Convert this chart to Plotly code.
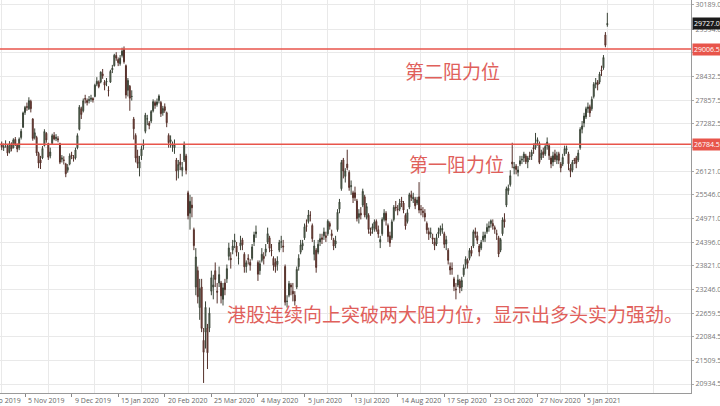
import plotly.graph_objects as go

# ---- data (trading-day index on x) ----
open_ = [26790,26700,26760,26740,26600,26780,26700,26900,26760,26700,
 26950,27200,27560,27700,27650,27830,27400,26950,26950,26560,
 26400,26450,26750,27050,26800,26500,26800,27000,26920,26920,
 26800,26420,26400,26300,26150,26300,26520,26460,26450,26700,
 27150,27650,27600,27900,27850,27850,27880,27900,27950,28250,
 28300,28300,28500,28300,28300,28100,28300,28600,28700,28950,
 28850,28750,28950,29100,28700,28100,28200,27950,27400,27000,
 26500,26200,26500,26750,27100,27400,27300,27350,27600,27800,
 27750,27850,27800,27550,27700,27550,27000,26850,26750,26700,
 26400,26150,26350,26150,26400,26500,25600,25100,25300,24700,
 23300,23700,22800,23300,22000,22200,22300,22300,23200,23300,
 23700,23200,23400,23400,23000,23400,23500,24050,24000,24200,
 24400,24300,24000,24300,24450,24100,23800,24000,23900,24000,
 24400,24600,23900,23700,23950,24050,24150,24400,24500,24200,
 24000,23900,23850,24200,24400,24300,23800,22950,23100,23350,
 23200,23100,23300,23800,24150,24300,24500,24800,24900,25050,
 24800,24100,24200,24150,24400,24500,24550,24550,24600,24850,
 24600,24450,24350,24700,25200,25700,26400,26000,26300,26100,
 25750,25600,25600,25400,25000,25100,25300,25500,25000,25050,
 24650,24700,24750,24900,24700,24400,24600,24950,25100,24800,
 24550,24500,24950,25250,25200,25200,25400,25350,25050,24900,
 25250,25550,25450,25450,25350,25500,25200,25150,25100,24850,
 24650,24600,24500,24400,24350,24600,24650,24700,24600,24350,
 24200,23800,23750,23500,23250,23350,23450,23300,23600,23850,
 23950,24000,24200,24300,24650,24550,24300,24250,24450,24500,
 24650,24750,24850,24850,24750,24600,24500,24200,24600,24950,
 25300,25650,25800,26350,26200,26250,26100,26300,26400,26450,
 26500,26350,26500,26500,26700,26700,26850,26800,26450,26600,
 26550,26750,26750,26450,26350,26550,26400,26550,26300,26300,
 26550,26650,26550,26200,26150,26400,26450,26400,26700,27150,
 27300,27450,27650,27700,27650,27950,28250,28300,28300,28600,
 28650,29450,29700]
high = [26850,26800,26880,26780,26860,26830,26930,26960,26800,26950,
 27160,27580,27720,27800,27930,27870,27420,27170,26990,26600,
 26500,26740,27150,27080,26820,26700,27040,27080,27030,26980,
 26820,26520,26490,26330,26300,26560,26600,26520,26700,27050,
 27740,27700,27900,27990,27900,27960,27990,27930,28260,28420,
 28340,28560,28620,28350,28400,28200,28600,28720,28990,29030,
 28900,28960,29140,29170,28730,28400,28230,28100,27450,27050,
 26650,26500,26750,26900,27550,27500,27350,27620,27880,27850,
 27900,28000,27840,27720,27780,27580,27050,27000,26850,26900,
 26450,26400,26550,26350,26850,26550,25650,25550,25500,24750,
 24250,23800,23500,23500,22300,22950,22400,22800,23700,23600,
 23900,23400,23800,23450,23400,23500,23850,24380,24150,24450,
 24600,24400,24150,24550,24500,24150,23950,24100,23980,24350,
 24650,24800,23950,23950,24250,24150,24350,24750,24550,24350,
 24050,24000,24050,24450,24550,24450,23850,23100,23450,23400,
 23400,23200,23800,24100,24450,24450,24850,24950,25180,25150,
 24850,24450,24250,24450,24600,24600,24750,24650,24950,24900,
 24700,24500,24550,25200,25450,26400,26450,26200,26650,26150,
 25900,25650,25750,25450,25200,25250,25700,25550,25350,25100,
 24750,24850,24950,24950,24800,24550,25000,25200,25150,24850,
 24650,24950,25300,25400,25300,25450,25500,25400,25100,25200,
 25600,25650,25600,25500,25500,25860,25300,25250,25200,24900,
 24750,24750,24600,24500,24600,24750,24800,24850,24650,24550,
 24250,23900,23900,23550,23400,23600,23500,23550,23850,24050,
 24000,24250,24300,24700,24750,24650,24350,24450,24650,24650,
 24850,24900,24950,24950,24800,24700,24550,24500,25000,25100,
 25750,25800,26150,26820,26350,26300,26250,26500,26500,26600,
 26550,26500,26600,26650,26800,27060,26950,26850,26650,26700,
 26800,26950,26800,26500,26600,26650,26600,26600,26350,26550,
 26750,26750,26600,26300,26400,26450,26500,26650,27200,27350,
 27550,27700,27800,27750,27950,28300,28400,28350,28550,28700,
 28960,29520,29990]
low = [26640,26620,26700,26500,26560,26610,26680,26740,26590,26640,
 26900,27180,27500,27600,27620,27560,26870,26900,26500,26200,
 26180,26420,26730,26820,26400,26440,26780,26880,26860,26830,
 26300,26340,26290,25980,26090,26270,26420,26360,26410,26660,
 27120,27400,27560,27780,27730,27780,27820,27800,27930,28200,
 28150,28270,28380,28100,28200,27950,28280,28520,28680,28820,
 28690,28700,28900,28750,27900,27950,27600,27850,26900,26340,
 26200,26000,26400,26650,27050,27250,27150,27300,27560,27650,
 27700,27780,27450,27480,27550,27200,26700,26700,26600,26550,
 25900,25950,26150,26000,26350,26050,24950,24700,25000,24200,
 23100,22900,22500,22200,20960,21800,21300,22200,23100,23000,
 23300,22900,23300,22900,22850,23100,23400,23950,23750,24100,
 24250,24050,23850,24200,24200,23650,23650,23850,23700,23950,
 24300,24500,23450,23600,23900,23850,24050,24350,24150,24050,
 23700,23650,23700,24150,24250,24150,22850,22800,23050,23100,
 22950,22850,23250,23700,24100,24200,24450,24650,24850,24900,
 24400,23950,23650,24100,24300,24350,24450,24400,24550,24700,
 24450,24200,24250,24650,25100,25650,25950,25850,26150,25650,
 25550,25350,25400,24900,24850,24950,25250,25000,24950,24600,
 24550,24600,24650,24650,24500,24250,24550,24900,24800,24400,
 24280,24450,24900,25150,25050,25150,25250,25100,24700,24850,
 25200,25400,25350,25200,25300,25100,25050,25000,24900,24600,
 24450,24500,24350,24200,24300,24500,24550,24600,24250,24200,
 23850,23600,23600,23200,23000,23300,23150,23200,23550,23750,
 23750,23950,24050,24250,24500,24350,24050,24200,24400,24400,
 24600,24650,24750,24700,24600,24450,24030,24150,24550,24750,
 25250,25550,25750,26200,26050,26050,26000,26250,26300,26350,
 26300,26200,26400,26400,26550,26650,26750,26300,26400,26450,
 26500,26650,26400,26200,26250,26350,26300,26300,26100,26250,
 26500,26550,26150,25980,26100,26300,26200,26350,26650,27050,
 27200,27400,27550,27450,27600,27900,28150,28100,28250,28450,
 28600,29150,29650]
close = [26720,26725,26786,26566,26797,26667,26891,26786,26667,26906,
 27101,27547,27683,27688,27847,27651,26926,27065,26571,26323,
 26327,26682,27094,26889,26467,26595,26994,26914,26954,26894,
 26346,26445,26391,26063,26218,26498,26495,26437,26645,26995,
 27688,27508,27844,27885,27800,27871,27906,27864,28225,28320,
 28190,28544,28452,28226,28322,28088,28562,28638,28955,28886,
 28774,28883,29056,28795,27985,28341,27909,27950,27160,26449,
 26313,26356,26675,26786,27494,27404,27241,27584,27823,27730,
 27816,27960,27530,27656,27609,27309,26821,26893,26778,26779,
 26130,26292,26284,26222,26767,26147,25040,25392,25232,24310,
 24033,23064,23264,22291,21709,22805,21696,22663,23527,23352,
 23484,23175,23603,23085,23280,23236,23749,24254,23970,24300,
 24435,24146,24006,24380,24330,23794,23893,23977,23831,24280,
 24575,24644,23613,23868,24100,23997,24231,24602,24245,24180,
 23830,23797,23935,24388,24400,24280,22930,22952,23384,23301,
 23133,22961,23732,24001,24325,24366,24770,24776,25057,25050,
 24480,24301,23777,24344,24481,24465,24644,24511,24907,24781,
 24550,24301,24427,25124,25373,26339,26130,26130,26210,25727,
 25772,25477,25481,24971,25090,25057,25635,25058,25263,24705,
 24603,24772,24884,24710,24595,24458,24947,25102,24930,24531,
 24377,24891,25244,25230,25183,25347,25368,25178,24791,25113,
 25551,25486,25492,25282,25422,25177,25185,25120,25008,24695,
 24590,24624,24469,24313,24503,24640,24732,24725,24341,24455,
 23951,23716,23742,23311,23235,23476,23275,23459,23768,23980,
 23880,24193,24119,24650,24600,24440,24158,24387,24542,24570,
 24754,24787,24918,24787,24709,24587,24107,24460,24940,24886,
 25696,25713,26016,26302,26227,26170,26157,26382,26415,26544,
 26357,26452,26486,26588,26669,26819,26895,26341,26567,26532,
 26728,26836,26507,26304,26502,26410,26506,26390,26207,26460,
 26678,26675,26306,26119,26343,26387,26315,26568,27147,27231,
 27473,27649,27692,27548,27878,28246,28277,28235,28496,28573,
 28900,29200,29727]

tick_index = [-12, 12, 36, 60, 84, 108, 132, 156, 180, 204, 228, 252, 276, 300]
tick_text = ["30 Sep 2019", "5 Nov 2019", "9 Dec 2019", "15 Jan 2020", "20 Feb 2020",
             "25 Mar 2020", "4 May 2020", "5 Jun 2020", "13 Jul 2020", "14 Aug 2020",
             "17 Sep 2020", "23 Oct 2020", "27 Nov 2020", "5 Jan 2021"]
grid_index = [0, 24, 48, 72, 96, 120, 144, 168, 192, 216, 240, 264, 288, 312, 336]

y_ticks = [20934.5, 21509.5, 22084.5, 22659.5, 23246.0, 23821.0, 24396.0, 24971.0,
           25546.0, 26121.0, 26707.5, 27282.5, 27857.5, 28432.5, 29019.0, 29594.0, 30189.0]
y_tick_text = ["20934.5", "21509.5", "22084.5", "22659.5", "23246.0", "23821.0", "24396.0",
               "24971.0", "25546.0", "26121.0", "", "27282.5", "27857.5", "28432.5", "",
               "29594.0", "30189.0"]

resistance_1 = 26784.5
resistance_2 = 29106.5
resistance_1_label = "26784.5"
resistance_2_label = "29006.5"
last_price_label = "29727.0"
last_price = 29727.0

label_r2 = "第二阻力位"
label_r1 = "第一阻力位"
comment = "港股连续向上突破两大阻力位，显示出多头实力强劲。"

# ---- figure ----
x = list(range(len(close)))
x_range = [-0.88, 355.1]
y_range = [20715, 30303]

fig = go.Figure(go.Candlestick(
    x=x, open=open_, high=high, low=low, close=close,
    increasing=dict(line=dict(color="#3a4437", width=1), fillcolor="#74896f"),
    decreasing=dict(line=dict(color="#55302a", width=1), fillcolor="#94503f"),
    whiskerwidth=0, showlegend=False, hoverinfo="skip"))

red = "#e8554b"
text_red = "#e0605b"

for v in (resistance_1, resistance_2):
    fig.add_shape(type="line", xref="paper", x0=0, x1=1, yref="y", y0=v, y1=v,
                  line=dict(color=red, width=1.6))

def px_paper(idx):
    return (idx - x_range[0]) / (x_range[1] - x_range[0])

anns = []
for idx, t in zip(tick_index, tick_text):
    anns.append(dict(x=px_paper(idx), xref="paper", y=0, yref="paper", yanchor="top",
                     xanchor="left", yshift=-1, xshift=1, text=t, showarrow=False,
                     font=dict(size=7, color="#666666", family="Open Sans")))

for v, t, bg in ((resistance_2, resistance_2_label, red),
                 (resistance_1, resistance_1_label, red),
                 (last_price, last_price_label, "#1b1b1b")):
    anns.append(dict(x=1, xref="paper", y=v, yref="y", xanchor="left", yanchor="middle",
                     xshift=1, text=t, showarrow=False, bgcolor=bg, borderpad=1,
                     font=dict(size=7, color="white", family="Open Sans")))

cjk = "Noto Sans CJK SC"
anns.append(dict(x=403/691, xref="paper", y=1-70/393, yref="paper", xanchor="left",
                 yanchor="middle", text=label_r2, showarrow=False,
                 font=dict(size=19, color=text_red, family=cjk)))
anns.append(dict(x=407/691, xref="paper", y=1-163/393, yref="paper", xanchor="left",
                 yanchor="middle", text=label_r1, showarrow=False,
                 font=dict(size=19, color=text_red, family=cjk)))
anns.append(dict(x=225/691, xref="paper", y=1-313/393, yref="paper", xanchor="left",
                 yanchor="middle", text=comment, showarrow=False,
                 font=dict(size=19, color=text_red, family=cjk)))

fig.update_layout(
    width=720, height=406,
    margin=dict(l=0, r=29, t=0, b=13),
    paper_bgcolor="white", plot_bgcolor="white",
    annotations=anns,
    xaxis=dict(range=x_range, rangeslider=dict(visible=False),
               tickmode="array", tickvals=tick_index, showticklabels=False,
               ticks="outside", ticklen=3, tickcolor="#888888",
               showgrid=False, zeroline=False,
               showline=True, linecolor="#9a9a9a", linewidth=1,
               minor=dict(tickmode="array", tickvals=grid_index, showgrid=True,
                          gridcolor="#e9e9e9", gridwidth=1, ticks="")),
    yaxis=dict(range=y_range, side="right", tickmode="array", tickvals=y_ticks,
               ticktext=y_tick_text, ticks="outside", ticklen=2, tickcolor="#aaaaaa",
               tickfont=dict(size=7, color="#777777", family="Open Sans"),
               showgrid=True, gridcolor="#e9e9e9", gridwidth=1, zeroline=False,
               showline=True, linecolor="#9a9a9a", linewidth=1),
)

fig.write_html("out.html", config={"displayModeBar": False},
               post_script="document.body.style.margin='0px';document.body.style.overflow='hidden';")
